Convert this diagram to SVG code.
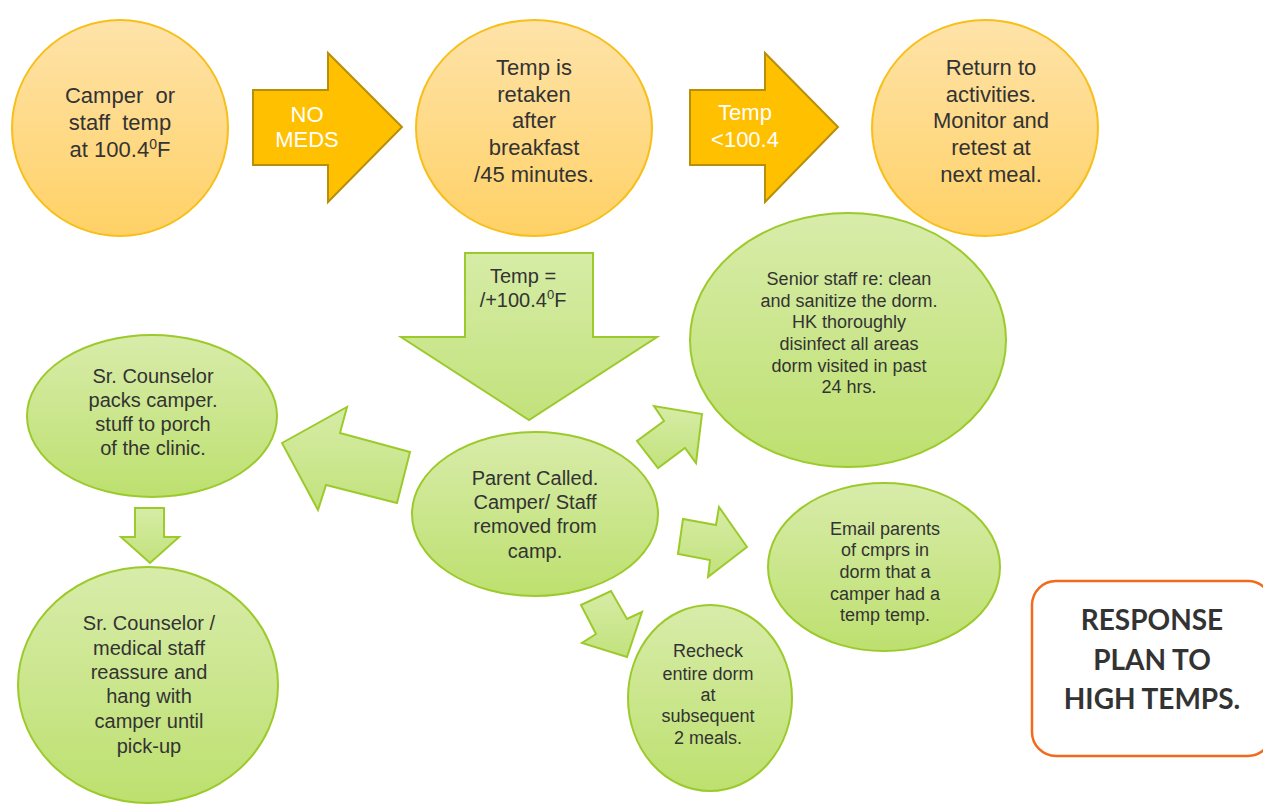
<svg xmlns="http://www.w3.org/2000/svg" width="1263" height="806" viewBox="0 0 1263 806">
<defs>
<linearGradient id="gOr" x1="0" y1="0" x2="0" y2="1"><stop offset="0" stop-color="#FEE3A9"/><stop offset="1" stop-color="#FFD166"/></linearGradient>
<linearGradient id="gGr" x1="0" y1="0" x2="0" y2="1"><stop offset="0" stop-color="#D8ECAA"/><stop offset="1" stop-color="#BDE06F"/></linearGradient>
<linearGradient id="gGa" x1="0" y1="0" x2="0" y2="1"><stop offset="0" stop-color="#D6ECA6"/><stop offset="1" stop-color="#C2E27C"/></linearGradient>
<style>
.or{fill:url(#gOr);stroke:#F7BF1A;stroke-width:2}
.gr{fill:url(#gGr);stroke:#9CCA2C;stroke-width:2}
.ya{fill:#FFC000;stroke:#B88F0A;stroke-width:2;stroke-linejoin:miter}
.ga{fill:url(#gGa);stroke:#9CCA2C;stroke-width:2;stroke-linejoin:miter}
text{font-family:"Liberation Sans",Arial,sans-serif;fill:#333;text-anchor:middle}
.t22{font-size:22px}
.t20{font-size:20px}
.t18{font-size:18px}
.w{fill:#fff}
.bold{font-family:Lato,"Open Sans","Liberation Sans",sans-serif;font-weight:bold;font-size:28px}
</style>
</defs>

<g id="connectors">
<polygon class="ya" points="253,90 328,90 328,53 402,127 328,202 328,165 253,165"/>
<polygon class="ya" points="690,90 765,90 765,53 838,127 765,202 765,165 690,165"/>
<polygon class="ga" points="465,253 593,253 593,337 657,337 529,420 401,337 465,337"/>
<polygon class="ga" points="282,443 347,407 340,433 410,452 397,503 326,485 318,510"/>
<polygon class="ga" points="135,508 164,508 164,537 179,537 150,563 121,537 135,537"/>
<polygon class="ga" points="702,414 696,463 685,448 658,468 637,441 664,421 654,406"/>
<polygon class="ga" points="747,547 708,577 710,560 678,554 683,519 716,525 719,507"/>
<polygon class="ga" points="581,605 611,591 627,619 642,612 627,657 582,643 596,634"/>
<text class="t22 w" x="307" y="122">NO</text>
<text class="t22 w" x="307" y="147">MEDS</text>
<text class="t22 w" x="745" y="120">Temp</text>
<text class="t22 w" x="745" y="147">&lt;100.4</text>
<text class="t20" x="523" y="283">Temp =</text>
<text class="t20" x="523" y="307">/+100.4<tspan font-size="13" dy="-8">0</tspan><tspan dy="8">F</tspan></text>
</g>

<g id="n1">
<circle class="or" cx="120" cy="128" r="108"/>
<text class="t22" x="120" y="103" xml:space="preserve">Camper  or</text>
<text class="t22" x="120" y="130" xml:space="preserve">staff  temp</text>
<text class="t22" x="120" y="157">at 100.4<tspan font-size="14" dy="-8">0</tspan><tspan dy="8">F</tspan></text>
</g>

<g id="n2">
<ellipse class="or" cx="534" cy="128" rx="118" ry="108"/>
<text class="t22" x="534" y="75">Temp is</text>
<text class="t22" x="534" y="102">retaken</text>
<text class="t22" x="534" y="128">after</text>
<text class="t22" x="534" y="155">breakfast</text>
<text class="t22" x="534" y="182">/45 minutes.</text>
</g>

<g id="n3">
<ellipse class="or" cx="985" cy="128" rx="113" ry="108"/>
<text class="t22" x="991" y="75">Return to</text>
<text class="t22" x="991" y="102">activities.</text>
<text class="t22" x="991" y="128">Monitor and</text>
<text class="t22" x="991" y="155">retest at</text>
<text class="t22" x="991" y="182">next meal.</text>
</g>

<g id="n4">
<ellipse class="gr" cx="848" cy="340" rx="158" ry="127"/>
<text class="t18" x="849" y="285">Senior staff re: clean</text>
<text class="t18" x="849" y="307">and sanitize the dorm.</text>
<text class="t18" x="849" y="328">HK thoroughly</text>
<text class="t18" x="849" y="350">disinfect all areas</text>
<text class="t18" x="849" y="372">dorm visited in past</text>
<text class="t18" x="849" y="393">24 hrs.</text>
</g>

<g id="n5">
<ellipse class="gr" cx="152" cy="416" rx="125" ry="81"/>
<text class="t20" x="153" y="383">Sr. Counselor</text>
<text class="t20" x="153" y="407">packs camper.</text>
<text class="t20" x="153" y="431">stuff to porch</text>
<text class="t20" x="153" y="455">of the clinic.</text>
</g>

<g id="n6">
<ellipse class="gr" cx="535" cy="514" rx="123" ry="82"/>
<text class="t20" x="535" y="485">Parent Called.</text>
<text class="t20" x="535" y="509">Camper/ Staff</text>
<text class="t20" x="535" y="533">removed from</text>
<text class="t20" x="535" y="558">camp.</text>
</g>

<g id="n7">
<ellipse class="gr" cx="884" cy="567" rx="116" ry="84"/>
<text class="t18" x="885" y="535">Email parents</text>
<text class="t18" x="885" y="556">of cmprs in</text>
<text class="t18" x="885" y="578">dorm that a</text>
<text class="t18" x="885" y="600">camper had a</text>
<text class="t18" x="885" y="621">temp temp.</text>
</g>

<g id="n8">
<ellipse class="gr" cx="710" cy="698" rx="82" ry="93"/>
<text class="t18" x="708" y="657">Recheck</text>
<text class="t18" x="708" y="680">entire dorm</text>
<text class="t18" x="708" y="701">at</text>
<text class="t18" x="708" y="722">subsequent</text>
<text class="t18" x="708" y="744">2 meals.</text>
</g>

<g id="n9">
<ellipse class="gr" cx="148" cy="685" rx="130" ry="118"/>
<text class="t20" x="149" y="630">Sr. Counselor /</text>
<text class="t20" x="149" y="655">medical staff</text>
<text class="t20" x="149" y="679">reassure and</text>
<text class="t20" x="149" y="703">hang with</text>
<text class="t20" x="149" y="728">camper until</text>
<text class="t20" x="149" y="753">pick-up</text>
</g>

<g id="title">
<rect x="1032" y="581" width="240" height="175" rx="24" ry="24" fill="#fff" stroke="#F26A1B" stroke-width="2.5"/>
<text class="bold" x="1152" y="630">RESPONSE</text>
<text class="bold" x="1152" y="670">PLAN TO</text>
<text class="bold" x="1152" y="709">HIGH TEMPS.</text>
</g>
</svg>
